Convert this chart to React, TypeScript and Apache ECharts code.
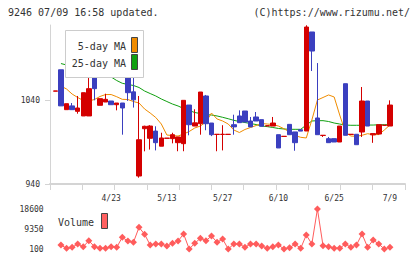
import React, { useEffect, useRef } from "react";
import * as echarts from "echarts";

const dates = [
  "4/9", "4/10", "4/11", "4/12", "4/15", "4/16", "4/17", "4/18", "4/19", "4/22",
  "4/23", "4/24", "4/25", "4/26", "4/30", "5/1", "5/2", "5/7", "5/8", "5/9",
  "5/13", "5/14", "5/15", "5/16", "5/17", "5/20", "5/21", "5/22", "5/23", "5/24",
  "5/27", "5/28", "5/29", "5/30", "5/31", "6/3", "6/4", "6/5", "6/6", "6/7",
  "6/10", "6/11", "6/12", "6/13", "6/14", "6/17", "6/18", "6/19", "6/20", "6/21",
  "6/25", "6/26", "6/27", "6/28", "7/1", "7/2", "7/3", "7/4", "7/5", "7/8",
  "7/9",
];

// [open, close, low, high]
const ohlc: number[][] = [
  [1050.5, 1050.8, 1050.5, 1050.8],
  [1076, 1033, 1033, 1076],
  [1028.5, 1035.6, 1028.5, 1035.6],
  [1033, 1028.5, 1028.5, 1036.4],
  [1026.5, 1030.5, 1023.7, 1044.8],
  [1021, 1048.7, 1021, 1048.7],
  [1021, 1053.5, 1021, 1099],
  [1070, 1053.5, 1039.6, 1070],
  [1033.7, 1041.6, 1033.7, 1041.6],
  [1037.6, 1040.8, 1037.6, 1047.5],
  [1038.8, 1034.4, 1034.4, 1038.8],
  [1034.4, 1036.4, 1027.7, 1036.4],
  [1036.4, 1030.5, 998.7, 1036.4],
  [1071.8, 1048.7, 1039, 1071.8],
  [1049.7, 1040.2, 1031, 1091],
  [949.5, 992.7, 947.5, 1044.8],
  [1005.8, 1008.7, 978.9, 1009.4],
  [994.4, 1009, 981, 1010],
  [1003, 989.2, 980, 1008.7],
  [985, 994.8, 985, 1001],
  [994.4, 994.6, 994.4, 994.6],
  [994, 998.7, 988.4, 1001],
  [989.2, 996, 979, 996],
  [988, 1039.6, 979, 1039.6],
  [1034, 1010.6, 998, 1034],
  [1009, 1012.8, 1009, 1029],
  [1011.8, 1049.5, 998.7, 1049.5],
  [1044.8, 1011.8, 1004, 1046],
  [1012.6, 998.7, 997, 1012.6],
  [999, 999.2, 979, 999.2],
  [999, 999.2, 980, 1010],
  [999, 999.2, 999, 999.2],
  [1010.6, 1008, 998.7, 1022.5],
  [1021, 1013, 1013, 1027.7],
  [1026.9, 1013.8, 1013.8, 1026.9],
  [1015, 1008, 1008, 1019.8],
  [1019.8, 1015, 1015, 1025.7],
  [1016.6, 1008.7, 1008.7, 1016.6],
  [1009.2, 1009.4, 1009.2, 1009.4],
  [1009, 1012.6, 1009, 1019.8],
  [998.7, 982.9, 982.9, 998.7],
  [996.6, 996.8, 996.6, 996.8],
  [1011, 998.7, 998.7, 1011],
  [1002, 989.2, 979.6, 1002],
  [1004.6, 1003, 1003, 1004.6],
  [1003.1, 1126.9, 1003.1, 1129],
  [1121, 1098.3, 1074.5, 1121],
  [1018.6, 998.7, 998.7, 1084],
  [997.8, 998, 996, 998],
  [994, 989.2, 989.2, 996],
  [994, 990, 990, 994],
  [990, 1009, 990, 1009],
  [1059.4, 998, 998, 1059.4],
  [999, 999.2, 999, 999.2],
  [999.2, 986.8, 986.8, 999.2],
  [1001.9, 1038.8, 996, 1055.5],
  [1038.8, 1009, 1009, 1038.8],
  [998.5, 1000, 989, 1000],
  [999.5, 1010.6, 999, 1010.6],
  [1009.8, 1010, 1009.8, 1010],
  [1009, 1034, 1009, 1039.6],
];

const ma5 = [
  null, 1056.7, 1053.1, 1047.1, 1043, 1039.4, 1038.8, 1040.6, 1044.2, 1046.5,
  1046.5, 1043.9, 1040.8, 1040.6, 1038.2, 1036.4, 1029.3, 1024.5, 1019.2, 1011.4,
  998.3, 997.7, 997.1, 999.5, 1002.5, 1006.7, 1009, 1013.8, 1024.5, 1017.4,
  1015, 1011.4, 1004.3, 1001.3, 1004.9, 1007.3, 1009.6, 1012, 1011.4, 1010.8,
  1009, 1005.8, 1001.9, 997.7, 995.6, 994.8, 1016.2, 1040, 1043, 1046,
  1043.6, 1022.1, 1001.9, 997.1, 996.8, 998, 999.9, 998.7, 998.9, 1004.3,
  1010.2,
];

const ma25 = [
  null, 1083.4, 1081.7, 1079.9, 1078.1, 1076.3, 1074.5, 1072.7, 1071, 1069.2,
  1067.4, 1063.2, 1059.9, 1058.5, 1057.3, 1054.9, 1050.7, 1047.7, 1044.8, 1041.2,
  1038.2, 1035.2, 1032.9, 1029.9, 1027.5, 1025.1, 1023.9, 1022.7, 1022.1, 1021,
  1019.4, 1017.7, 1015.8, 1014.4, 1013.2, 1012, 1010.8, 1009, 1008.3, 1007.3,
  1006.1, 1005.5, 1005.1, 1005.1, 1005.1, 1010.2, 1015, 1015.4, 1015.4, 1014.4,
  1012.6, 1011.4, 1010.2, 1009.9, 1009.9, 1009.9, 1010.2, 1010.2, 1010.5, 1010.6,
  1010.6,
];

const volume = [
  null, 1950, 420, 890, 2410, 1160, 3940, 1160, 420, 420,
  1160, 880, 5500, 3800, 3200, 10130, 6900, 1950, 2410, 2410,
  1490, 2720, 3800, 7040, 100, 2720, 5050, 3940, 6110, 3200,
  4720, 100, 2410, 2410, 880, 2410, 2410, 1490, 420, 1160,
  1950, 100, 700, 2410, 420, 6570, 2410, 18600, 1640, 1160,
  420, 420, 2410, 880, 1950, 7040, 880, 4260, 2410, 100,
  880,
];

const priceTicks = [940, 1040];

const MONO = "DejaVu Sans Mono";
const AXIS_GRAY = "#d4d4d4";
const TEXT = "#333333";
const RED = "#d40000";
const BLUE = "#3b3fbf";
const ORANGE = "#f08c00";
const GREEN = "#10a010";
const VOL = "#ff5c5c";

const plain = (v: number) => String(Math.round(v));

export default function App() {
  const ref = useRef<HTMLDivElement>(null);

  useEffect(() => {
    if (!ref.current) return;
    const chart = echarts.init(ref.current, null, { renderer: "svg" });
    const option: any = {
      animation: false,
      backgroundColor: "#ffffff",
      grid: [
        { left: 50, top: 25, width: 355, height: 159 },
        { left: 52.6, top: 25, width: 340.1, height: 159 },
        { left: 52.6, top: 209, width: 340.1, height: 40 },
      ],
      xAxis: [
        {
          gridIndex: 0,
          type: "value",
          min: 0,
          max: 11,
          interval: 1,
          axisLine: { show: true, lineStyle: { color: AXIS_GRAY, width: 2 } },
          axisTick: { show: true, length: 6, lineStyle: { color: AXIS_GRAY } },
          axisLabel: { show: false },
          splitLine: { show: false },
        },
        {
          gridIndex: 1,
          type: "category",
          data: dates,
          boundaryGap: true,
          axisLine: { show: false },
          axisTick: { show: false },
          splitLine: { show: false },
          axisLabel: {
            interval: (i: number) => i > 0 && i % 10 === 0,
            fontSize: 8,
            fontFamily: MONO,
            color: TEXT,
            margin: 10,
          },
        },
        {
          gridIndex: 2,
          type: "category",
          data: dates,
          boundaryGap: true,
          show: false,
        },
      ],
      yAxis: [
        {
          gridIndex: 0,
          type: "value",
          min: 940,
          max: 1129.3,
          interval: 100,
          axisLine: { show: true, lineStyle: { color: AXIS_GRAY } },
          axisTick: {
            show: true,
            length: 5,
            customValues: priceTicks,
            lineStyle: { color: AXIS_GRAY },
          },
          axisLabel: {
            customValues: priceTicks,
            formatter: plain,
            fontSize: 8,
            fontFamily: MONO,
            color: TEXT,
            margin: 10,
          },
          splitLine: { show: false },
        },
        {
          gridIndex: 1,
          type: "value",
          min: 940,
          max: 1129.3,
          show: false,
        },
        {
          gridIndex: 2,
          type: "value",
          min: 100,
          max: 18600,
          interval: 9250,
          axisLine: { show: false },
          axisTick: { show: false },
          splitLine: { show: false },
          axisLabel: { formatter: plain, fontSize: 8, fontFamily: MONO, color: TEXT, margin: 9 },
        },
      ],
      series: [
        {
          name: "25-day MA",
          type: "line",
          xAxisIndex: 1,
          yAxisIndex: 1,
          data: ma25,
          symbol: "none",
          lineStyle: { color: GREEN, width: 1 },
          z: 2,
        },
        {
          name: "5-day MA",
          type: "line",
          xAxisIndex: 1,
          yAxisIndex: 1,
          data: ma5,
          symbol: "none",
          lineStyle: { color: ORANGE, width: 1 },
          z: 2,
        },
        {
          name: "price",
          type: "candlestick",
          xAxisIndex: 1,
          yAxisIndex: 1,
          data: ohlc,
          barWidth: 5,
          itemStyle: {
            color: RED,
            color0: BLUE,
            borderColor: RED,
            borderColor0: BLUE,
            borderWidth: 1,
          },
          z: 3,
        },
        {
          name: "Volume",
          type: "line",
          xAxisIndex: 2,
          yAxisIndex: 2,
          data: volume,
          symbol: "diamond",
          symbolSize: 7,
          showAllSymbol: true,
          clip: false,
          lineStyle: { color: VOL, width: 1 },
          itemStyle: { color: VOL },
        },
      ],
      graphic: [
        {
          type: "text",
          x: 8,
          y: 12,
          style: { text: "9246 07/09 16:58 updated.", fill: TEXT, fontSize: 10, fontFamily: MONO, verticalAlign: "middle", align: "left" },
        },
        {
          type: "text",
          x: 410,
          y: 12,
          style: { text: "(C)https://www.rizumu.net/", fill: TEXT, fontSize: 10, fontFamily: MONO, verticalAlign: "middle", align: "right" },
        },
        {
          type: "rect",
          z: 100,
          shape: { x: 65.5, y: 30.5, width: 78, height: 47 },
          style: { fill: "#ffffff", stroke: "#cccccc", lineWidth: 1 },
        },
        {
          type: "text",
          z: 101,
          x: 126,
          y: 46,
          style: { text: "5-day MA", fill: TEXT, fontSize: 10, fontFamily: MONO, verticalAlign: "middle", align: "right" },
        },
        {
          type: "text",
          z: 101,
          x: 126,
          y: 63,
          style: { text: "25-day MA", fill: TEXT, fontSize: 10, fontFamily: MONO, verticalAlign: "middle", align: "right" },
        },
        {
          type: "rect",
          z: 101,
          shape: { x: 131.5, y: 37.5, width: 6, height: 15 },
          style: { fill: ORANGE, stroke: "#444444", lineWidth: 1 },
        },
        {
          type: "rect",
          z: 101,
          shape: { x: 131.5, y: 54.5, width: 6, height: 15 },
          style: { fill: GREEN, stroke: "#444444", lineWidth: 1 },
        },
        {
          type: "text",
          z: 101,
          x: 58,
          y: 222,
          style: { text: "Volume", fill: TEXT, fontSize: 10, fontFamily: MONO, verticalAlign: "middle", align: "left" },
        },
        {
          type: "rect",
          z: 101,
          shape: { x: 101.5, y: 213.5, width: 6, height: 15 },
          style: { fill: "#ff6060", stroke: "#444444", lineWidth: 1 },
        },
      ],
    };
    chart.setOption(option);
    return () => chart.dispose();
  }, []);

  return (
    <div
      ref={ref}
      style={{ position: "fixed", left: 0, top: 0, width: 420, height: 259 }}
    />
  );
}
